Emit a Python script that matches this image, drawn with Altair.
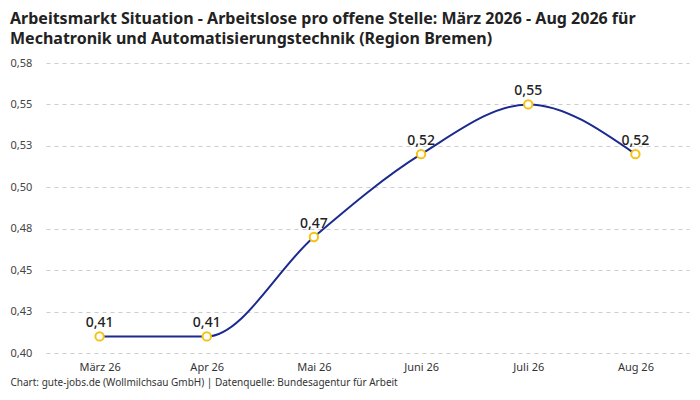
import altair as alt
import pandas as pd

months = ["März 26", "Apr 26", "Mai 26", "Juni 26", "Juli 26", "Aug 26"]
values = [0.41, 0.41, 0.47, 0.52, 0.55, 0.52]
y_ticks = [0.4, 0.425, 0.45, 0.475, 0.5, 0.525, 0.55, 0.575]

df = pd.DataFrame({
    "month": months,
    "value": values,
    "label": [f"{v:.2f}".replace(".", ",") for v in values],
})

FONT = "Noto Sans"
W, H = 643, 290

x = alt.X("month:N", sort=months, scale=alt.Scale(type="point", padding=0.5),
          axis=alt.Axis(title="Chart: gute-jobs.de (Wollmilchsau GmbH) | Datenquelle: Bundesagentur für Arbeit",
                        titleFont=FONT, titleFontSize=10, titleFontWeight="normal", titleColor="#333",
                        titleAnchor="start", titleAlign="left", titleBaseline="top",
                        titleX=-36, titleY=24,
                        labelAngle=0, labelFont=FONT, labelFontSize=11, labelColor="#333",
                        labelPadding=8, ticks=False, tickSize=0, domain=False, grid=False))
y = alt.Y("value:Q", scale=alt.Scale(domain=[0.4, 0.575], nice=False, zero=False),
          axis=alt.Axis(title=None, values=y_ticks,
                        labelExpr="replace(format(datum.value + 0.0000001, '.2f'), '.', ',')",
                        labelFont=FONT, labelFontSize=11, labelColor="#444",
                        labelAlign="left", labelPadding=36, ticks=False, tickSize=0,
                        domain=False, grid=True, gridColor="#cccccc", gridDash=[4, 4]))

base = alt.Chart(df)
line = base.mark_line(color="#1b2a8f", strokeWidth=2, interpolate="monotone").encode(x=x, y=y)
pts = base.mark_point(shape="circle", filled=True, fill="white", stroke="#f5c211",
                      strokeWidth=2, size=70, opacity=1).encode(x=x, y=y)
txt = base.mark_text(font=FONT, fontSize=14, fontWeight=500, color="#222",
                     baseline="alphabetic", dy=-9).encode(x=x, y=y, text="label:N")

chart = alt.layer(line, pts, txt).properties(
    width=W, height=H,
    title=alt.TitleParams(
        ["Arbeitsmarkt Situation - Arbeitslose pro offene Stelle: März 2026 - Aug 2026 für",
         "Mechatronik und Automatisierungstechnik (Region Bremen)"],
        anchor="start", font=FONT, fontSize=16, fontWeight="bold", color="#222",
        lineHeight=20, offset=10),
    autosize=alt.AutoSizeParams(type="none"),
    padding={"left": 38, "top": 55, "right": 3, "bottom": 39},
).configure_view(stroke=None)

chart.save("out.html", embed_options={"renderer": "svg", "actions": False})
